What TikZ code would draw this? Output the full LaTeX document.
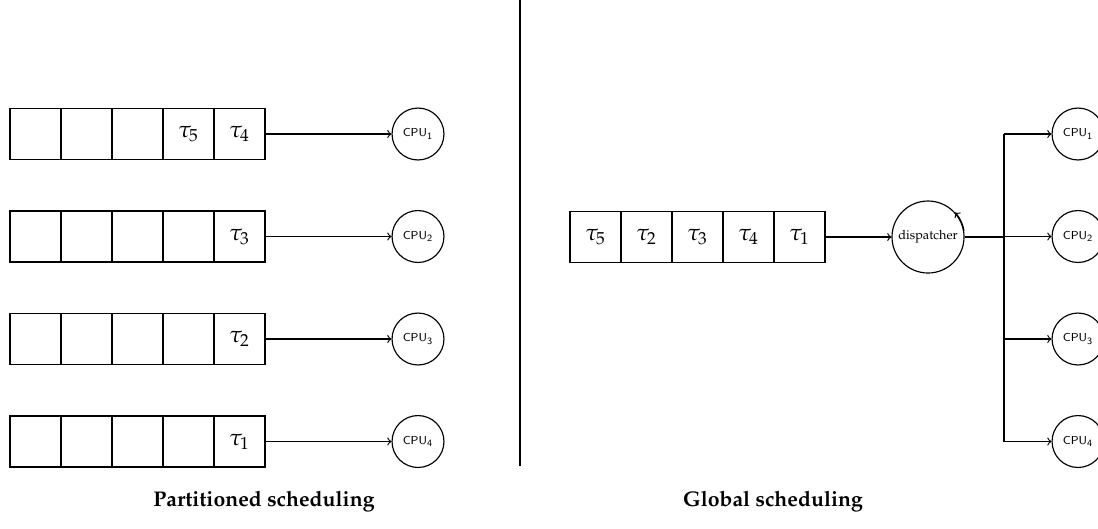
\documentclass[tikz,border=0pt]{standalone}
\usepackage[T1]{fontenc}
\usepackage{mathpazo}
\begin{document}
\begin{tikzpicture}[x=0.518pt,y=-0.518pt, line width=0.6pt,
  qbox/.style={draw, minimum size=26.4pt, inner sep=0pt, font=\large},
  cpu/.style={draw, circle, minimum size=26.9pt, inner sep=0pt, font=\usefont{OT1}{cmss}{m}{n}\fontsize{6}{7}\selectfont},
  disp/.style={draw, circle, minimum size=37.3pt, inner sep=0pt, font=\fontsize{6.6}{7}\selectfont},
  arr/.style={->},
  caption/.style={font=\fontsize{11}{13}\selectfont\bfseries}]
\useasboundingbox (0,0) rectangle (1098,528);
% partitioned
\foreach \r/\y/\s/\t in {1/134/{$\tau_5$}/{$\tau_4$},2/236.5/{}/{$\tau_3$},3/339/{}/{$\tau_2$},4/441.5/{}/{$\tau_1$}}{
  \node[qbox] (p\r a) at (35.5,\y) {};
  \node[qbox] (p\r b) at (86.5,\y) {};
  \node[qbox] (p\r c) at (137.5,\y) {};
  \node[qbox] (p\r d) at (188.5,\y) {\s};
  \node[qbox] (p\r e) at (239.5,\y) {\t};
  \node[cpu] (c\r) at (418,\y) {CPU\textsubscript{\r}};
  \draw[arr] (p\r e) -- (c\r);
}
% divider
\coordinate (dt) at (520,0);
\coordinate (db) at (520,466);
\draw (dt) -- (db);
% global
\node[qbox] (g1) at (595.5,237) {$\tau_5$};
\node[qbox] (g2) at (646.5,237) {$\tau_2$};
\node[qbox] (g3) at (697.5,237) {$\tau_3$};
\node[qbox] (g4) at (748.5,237) {$\tau_4$};
\node[qbox] (g5) at (799.5,237) {$\tau_1$};
\node[disp] (d) at (928,237) {dispatcher};
\draw[arr] (g5) -- (d);
\draw[->] (d.10) arc[start angle=10, end angle=42, radius=18.95pt];
\coordinate (bm) at (1004,237);
\draw (d) -- (bm);
\foreach \r/\y in {1/134,2/236.5,3/339,4/441.5}{
  \coordinate (b\r) at (1004,\y);
  \node[cpu] (r\r) at (1078,\y) {CPU\textsubscript{\r}};
  \draw[arr] (b\r) -- (r\r);
}
\draw (b1) -- (b4);
% captions
\node[caption] (capL) at (264,502) {Partitioned scheduling};
\node[caption] (capR) at (773,502) {Global scheduling};
\end{tikzpicture}
\end{document}
